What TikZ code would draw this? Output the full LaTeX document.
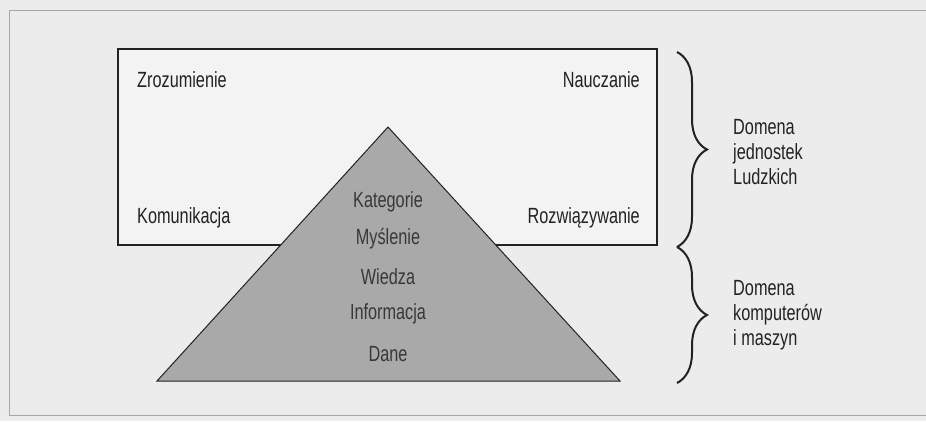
\documentclass[tikz,border=0pt]{standalone}
\usepackage{fontspec}
\setmainfont[FakeStretch=0.74]{Liberation Sans}
\usetikzlibrary{decorations.pathreplacing, calc, positioning}
\definecolor{paper}{HTML}{ECECEC}
\definecolor{boxfill}{HTML}{F3F3F3}
\definecolor{pyrfill}{HTML}{A9A9A9}
\definecolor{ink}{HTML}{222222}
\tikzset{
  word/.style={
    text=ink,
    inner sep=0pt,
    font=\fontsize{22}{22}\selectfont,
  },
  pyrword/.style={
    word,
    text=ink!90,
    anchor=center
  },
  domainlabel/.style={
    word,
    align=left,
    anchor=west,
    font=\fontsize{22}{25}\selectfont
  },
  bracket/.style={
    decorate,
    decoration={brace, amplitude=30pt},
    line width=2pt,
    draw=ink
  }
}

\begin{document}
\begin{tikzpicture}[x=1pt, y=-1pt]

\useasboundingbox (0,0) rectangle (926,421);

% --- Paper background ---
\fill[paper] (0,0) rectangle (926,421);
\draw[gray!70, line width=0.6pt] (930,10) -- (9,10) -- (9,415) -- (930,415);

% --- Human domain box ---
\draw[ink, fill=boxfill, line width=1.2pt] (118,49) rectangle (657,245);
\coordinate (boxNW) at (137,80);
\coordinate (boxNE) at (640,80);
\coordinate (boxSW) at (137,218);
\coordinate (boxSE) at (640,218);
\node[word, anchor=west] (zroz) at (boxNW) {Zrozumienie};
\node[word, anchor=east] (nauc) at (boxNE) {Nauczanie};
\node[word, anchor=west] (komu) at (boxSW) {Komunikacja};
\node[word, anchor=east] (rozw) at (boxSE) {Rozwiązywanie};

% --- Pyramid ---
\coordinate (apex) at (388,127);
\coordinate (baseL) at (157,381);
\coordinate (baseR) at (620,381);
\draw[ink, fill=pyrfill, line width=1pt, line join=miter] (apex) -- (baseR) -- (baseL) -- cycle;

\node[pyrword] (kat) at (388,202) {Kategorie};
\node[pyrword, below=37pt of kat.center, anchor=center] (mysl) {Myślenie};
\node[pyrword, below=38pt of mysl.center, anchor=center] (wied) {Wiedza};
\node[pyrword, below=37pt of wied.center, anchor=center] (info) {Informacja};
\node[pyrword, below=40pt of info.center, anchor=center] (dane) {Dane};

% --- Braces ---
\coordinate (brTop) at (677,52);
\coordinate (brMid) at (677,247);
\coordinate (brBot) at (677,383);
\draw[bracket] (brTop) -- (brMid);
\draw[bracket] (brMid) -- (brBot);

% --- Domain labels ---
\node[domainlabel] (human) at (733,152) {Domena\\jednostek\\Ludzkich};
\node[domainlabel] (machine) at (733,315) {Domena\\komputerów\\i maszyn};

\end{tikzpicture}
\end{document}
